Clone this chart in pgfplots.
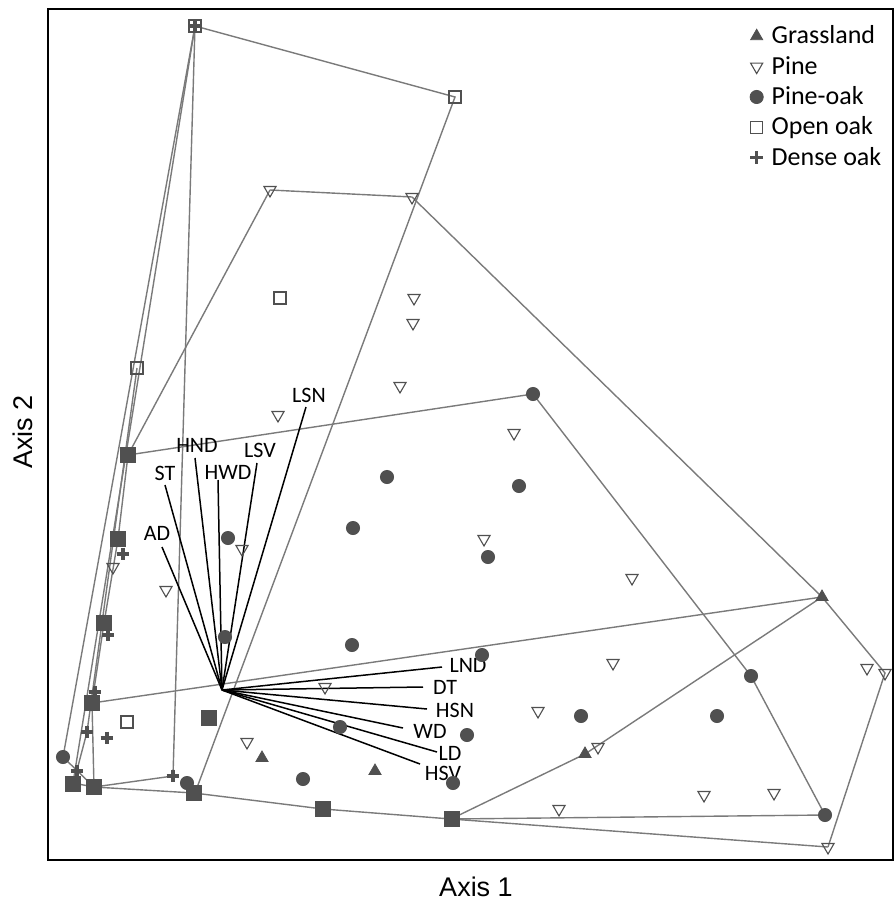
\documentclass[border=0pt]{standalone}
\usepackage{pgfplots}
\pgfplotsset{compat=1.18}
\usepackage{fontspec}
\setmainfont{Carlito}
\newfontfamily\arialf{Liberation Sans}
\definecolor{mk}{HTML}{505050}
\definecolor{ln}{HTML}{7A7A7A}
\begin{document}
\begin{tikzpicture}
\useasboundingbox (-24pt,-22pt) rectangle (423.5pt,430pt);
\begin{axis}[
  scale only axis, width=422.5pt, height=425.5pt,
  xmin=48, xmax=893, ymin=9, ymax=860, y dir=reverse,
  ticks=none, clip=false,
  axis line style={line width=1.4pt},
  legend cell align=left,
  legend style={at={(axis description cs:0.828,0.986)}, anchor=north west,
    draw=none, fill=none, font=\fontsize{13}{15.5}\selectfont,
    row sep=2.3pt, inner sep=1pt,
    nodes={inner sep=1.2pt},
    /tikz/every odd column/.append style={column sep=3pt}},
]
% ---- connecting lines
\addplot[ln, line width=0.7pt, forget plot] coordinates {(195,26)(455,97)(195,793)};
\addplot[ln, line width=0.7pt, forget plot] coordinates {(195,26)(173,776)};
\addplot[ln, line width=0.7pt, forget plot] coordinates {(195,26)(63,757)};
\addplot[ln, line width=0.7pt, forget plot] coordinates {(195,26)(73,783)};
\addplot[ln, line width=0.7pt, forget plot] coordinates {(270,190)(412,197)(822,597)};
\addplot[ln, line width=0.7pt, forget plot] coordinates {(270,190)(128,455)(533,394)(751,676)(825,815)};
\addplot[ln, line width=0.7pt, forget plot] coordinates {(92,703)(822,597)(885,673)(828,847)};
\addplot[ln, line width=0.7pt, forget plot] coordinates {(451,819)(585,754)(822,597)};
\addplot[ln, line width=0.7pt, forget plot] coordinates {(451,819)(825,815)};
\addplot[ln, line width=0.7pt, forget plot] coordinates {(451,819)(828,847)};
\addplot[ln, line width=0.7pt, forget plot] coordinates {(73,783)(94,787)(194,793)(323,809)(451,819)};
\addplot[ln, line width=0.7pt, forget plot] coordinates {(94,787)(173,776)};
\addplot[ln, line width=0.7pt, forget plot] coordinates {(94,787)(92,703)(104,623)(118,539)(128,455)};
\addplot[ln, line width=0.7pt, forget plot] coordinates {(137,368)(87,732)(77,770)(73,783)};
\addplot[ln, line width=0.7pt, forget plot] coordinates {(63,757)(94,787)};
% ---- environmental vectors
\addplot[black, line width=0.75pt, forget plot] coordinates {(222,690)(162,547)};
\addplot[black, line width=0.75pt, forget plot] coordinates {(222,690)(165,485)};
\addplot[black, line width=0.75pt, forget plot] coordinates {(222,690)(195,458)};
\addplot[black, line width=0.75pt, forget plot] coordinates {(222,690)(218,480)};
\addplot[black, line width=0.75pt, forget plot] coordinates {(222,690)(257,463)};
\addplot[black, line width=0.75pt, forget plot] coordinates {(222,690)(306,407)};
\addplot[black, line width=0.75pt, forget plot] coordinates {(222,690)(442,667)};
\addplot[black, line width=0.75pt, forget plot] coordinates {(222,690)(423,687)};
\addplot[black, line width=0.75pt, forget plot] coordinates {(222,690)(427,709)};
\addplot[black, line width=0.75pt, forget plot] coordinates {(222,690)(403,728)};
\addplot[black, line width=0.75pt, forget plot] coordinates {(222,690)(437,752)};
\addplot[black, line width=0.75pt, forget plot] coordinates {(222,690)(420,764)};
% ---- sites
\addplot[only marks, mark=triangle*, mark size=3.5pt, draw=mk, fill=mk] coordinates {
(822,597)(262,758)(375,771)(585,754)};
\addlegendentry{Grassland}
\addplot[only marks, mark=triangle, mark size=3.5pt, mark options={rotate=180, draw=mk, fill=white, line width=0.55pt}] coordinates {
(270,190)(412,197)(414,298)(413,323)(400,386)(278,415)(514,433)(484,539)(242,549)(166,590)(113,567)
(632,578)(325,687)(613,663)(538,711)(598,747)(247,742)(559,809)(704,795)(774,793)(867,668)(885,673)(828,847)};
\addlegendentry{Pine}
\addplot[only marks, mark=*, mark size=3.3pt, draw=mk, fill=mk] coordinates {
(533,394)(387,477)(353,528)(519,486)(488,557)(228,538)(225,637)(352,645)(340,727)(482,655)(467,735)
(453,783)(581,716)(717,716)(751,676)(825,815)(303,779)(187,783)(63,757)};
\addlegendentry{Pine-oak}
\addplot[only marks, mark=square, mark size=3pt, mark options={draw=mk, fill=white, line width=0.55pt}] coordinates {
(195,26)(455,97)(280,298)(137,368)(127,722)};
\addlegendentry{Open oak}
\addplot[only marks, mark=square*, mark size=3.6pt, draw=mk, fill=mk, forget plot] coordinates {
(128,455)(118,539)(104,623)(92,703)(73,784)(94,787)(194,793)(209,718)(323,809)(452,819)};
\addplot[only marks, mark=+, mark size=3.2pt, mark options={draw=mk, line width=1.6pt}] coordinates {
(195,26)(123,554)(108,635)(95,692)(87,732)(107,738)(77,771)(173,776)};
\addlegendentry{Dense oak}
% ---- labels
\begin{scope}[font=\fontsize{11}{13}\selectfont]
\node at (axis cs:157,533) {AD};
\node at (axis cs:165,473) {ST};
\node at (axis cs:197,445) {HND};
\node at (axis cs:228,472) {HWD};
\node at (axis cs:260,450) {LSV};
\node at (axis cs:309,395) {LSN};
\node at (axis cs:468,665) {LND};
\node at (axis cs:445,687) {DT};
\node at (axis cs:455,710) {HSN};
\node at (axis cs:430,731) {WD};
\node at (axis cs:450,753) {LD};
\node at (axis cs:443,773) {HSV};
\end{scope}
\node[font=\arialf\fontsize{13.5}{16}\selectfont] at (axis cs:476,887) {Axis 1};
\node[font=\arialf\fontsize{13.5}{16}\selectfont, rotate=90] at (axis cs:23,432) {Axis 2};
\end{axis}
\end{tikzpicture}
\end{document}
